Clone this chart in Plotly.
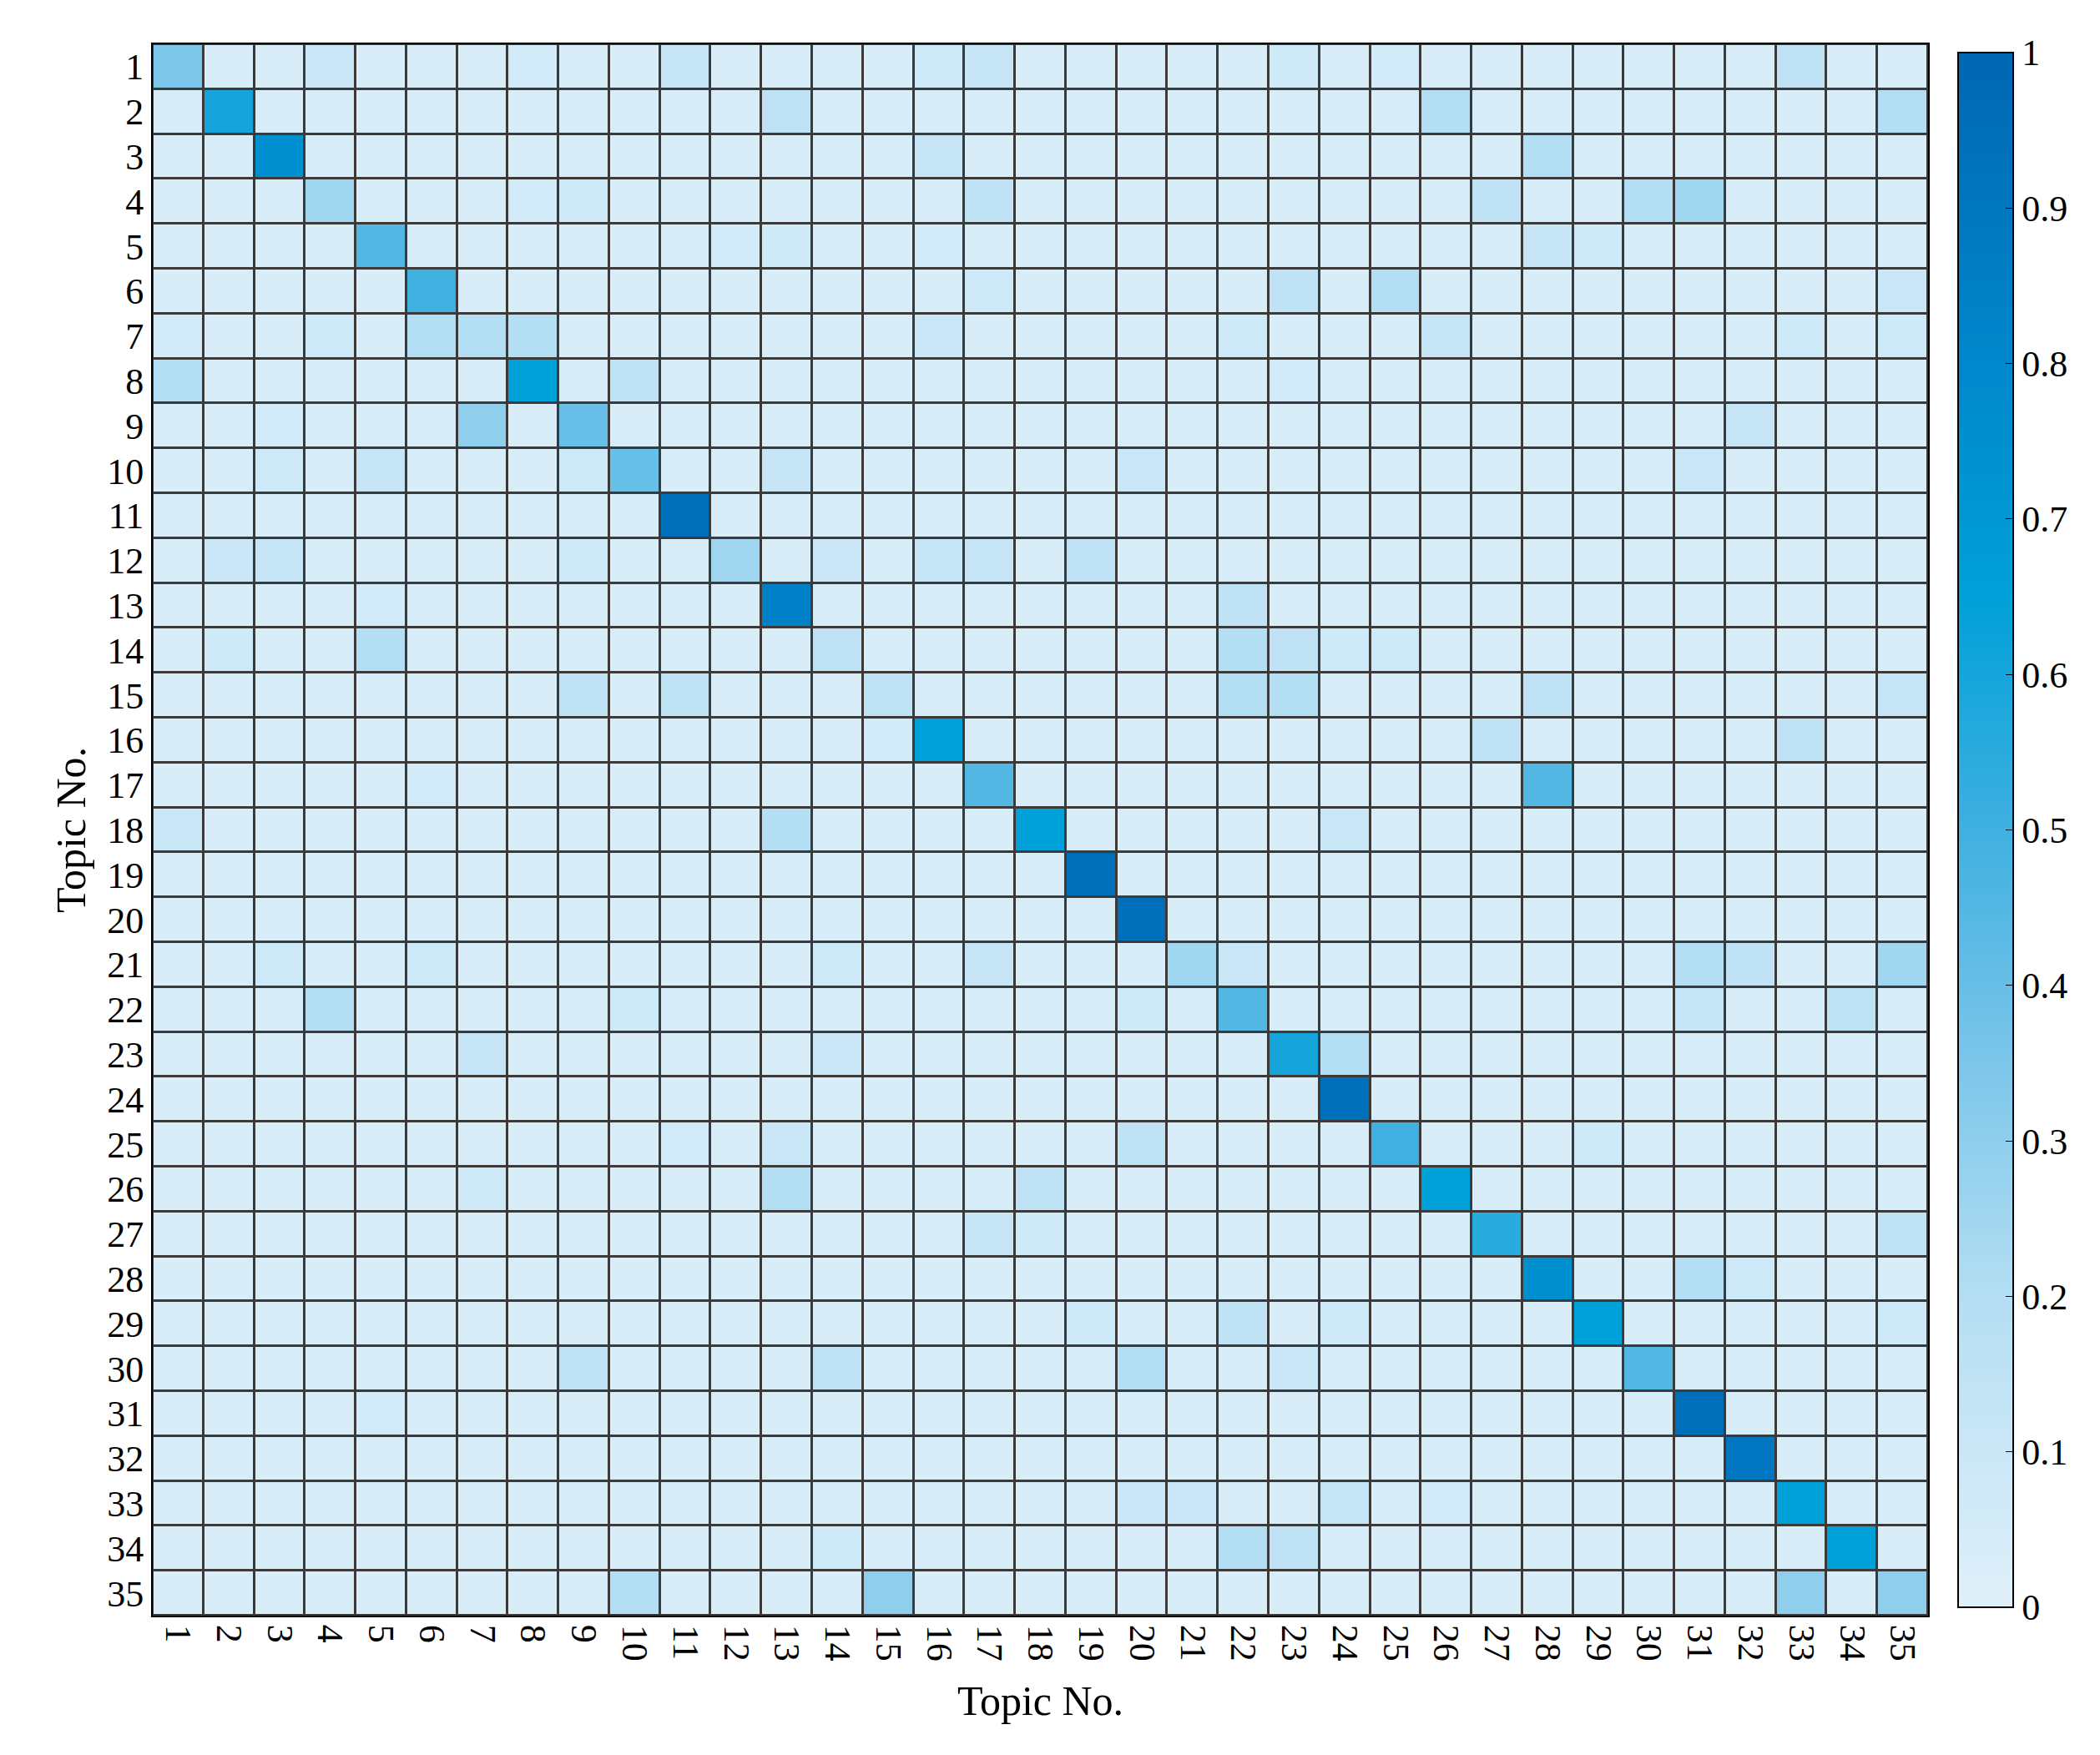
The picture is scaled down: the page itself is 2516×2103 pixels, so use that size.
import plotly.graph_objects as go

topics = [str(i) for i in range(1, 36)]
base_value = 0.03
diag_values = [0.35, 0.6, 0.75, 0.25, 0.45, 0.5, 0.2, 0.65, 0.4, 0.4, 0.95, 0.25, 0.85, 0.15, 0.15,
               0.65, 0.45, 0.65, 0.95, 0.95, 0.25, 0.45, 0.6, 0.95, 0.5, 0.65, 0.55, 0.75, 0.65, 0.45,
               0.95, 0.9, 0.65, 0.65, 0.3]
# (row, col, value), 1-based
off_diag = [
    (1,4,0.1),(1,11,0.12),(1,16,0.08),(1,17,0.12),(1,8,0.06),(1,23,0.08),(1,25,0.06),(1,33,0.15),
    (2,13,0.15),(2,26,0.2),(2,35,0.2),
    (3,16,0.12),(3,28,0.2),
    (4,9,0.08),(4,17,0.15),(4,27,0.15),(4,30,0.2),(4,31,0.25),(4,8,0.06),
    (5,28,0.12),(5,13,0.08),(5,29,0.08),(5,12,0.06),(5,16,0.06),
    (6,23,0.15),(6,25,0.2),(6,35,0.1),(6,17,0.08),
    (7,6,0.2),(7,8,0.2),(7,16,0.1),(7,26,0.12),(7,22,0.08),(7,1,0.06),(7,4,0.08),(7,33,0.08),(7,35,0.08),
    (8,1,0.2),(8,10,0.15),(8,23,0.06),
    (9,7,0.3),(9,32,0.12),(9,3,0.06),
    (10,5,0.12),(10,13,0.12),(10,20,0.1),(10,9,0.08),(10,31,0.1),(10,3,0.08),
    (12,2,0.1),(12,3,0.12),(12,9,0.08),(12,14,0.1),(12,16,0.12),(12,17,0.12),(12,19,0.15),
    (13,22,0.15),(13,5,0.06),
    (14,5,0.2),(14,22,0.2),(14,23,0.15),(14,24,0.08),(14,2,0.08),(14,25,0.08),
    (15,9,0.15),(15,11,0.15),(15,22,0.2),(15,23,0.2),(15,28,0.15),(15,35,0.12),
    (16,27,0.15),(16,33,0.15),(16,15,0.06),
    (17,28,0.45),(17,6,0.06),
    (18,1,0.1),(18,13,0.2),(18,24,0.1),
    (21,22,0.1),(21,31,0.2),(21,32,0.15),(21,35,0.25),(21,17,0.12),(21,14,0.08),(21,3,0.08),(21,6,0.08),
    (22,4,0.2),(22,31,0.12),(22,34,0.15),(22,10,0.08),(22,20,0.08),
    (23,7,0.12),(23,24,0.2),(23,14,0.1),
    (25,20,0.15),(25,13,0.1),(25,29,0.08),(25,11,0.06),
    (26,13,0.2),(26,18,0.15),(26,7,0.08),
    (27,17,0.12),(27,35,0.15),(27,18,0.08),
    (28,31,0.2),(28,32,0.08),
    (29,22,0.15),(29,24,0.08),(29,35,0.08),(29,19,0.08),
    (30,9,0.15),(30,14,0.15),(30,20,0.2),(30,23,0.1),
    (31,5,0.06),
    (33,20,0.1),(33,21,0.1),(33,24,0.12),(33,26,0.06),
    (34,22,0.2),(34,23,0.15),(34,14,0.08),
    (35,10,0.2),(35,15,0.3),(35,33,0.3),
]

n = len(topics)
z = [[base_value] * n for _ in range(n)]
for i, v in enumerate(diag_values):
    z[i][i] = v
for r, c, v in off_diag:
    z[r-1][c-1] = v

colorscale = [[0, '#e0f0fa'], [0.2, '#b4def3'], [0.35, '#7cc6ea'], [0.5, '#3fb0e0'],
              [0.65, '#00a0d8'], [0.8, '#0088cc'], [1, '#0066b3']]

font = "Liberation Serif"
fig = go.Figure(go.Heatmap(
    z=z, x=topics, y=topics, zmin=0, zmax=1, colorscale=colorscale,
    xgap=3, ygap=3,
    colorbar=dict(x=1.012, xanchor='left', y=0.5, len=1.0, yanchor='middle', thickness=66,
                  outlinecolor='black', outlinewidth=2, tickvals=[i/10 for i in range(11)],
                  ticktext=['0','0.1','0.2','0.3','0.4','0.5','0.6','0.7','0.8','0.9','1'],
                  ticks='inside', ticklen=10, tickcolor='black',
                  tickfont=dict(family=font, size=44, color='black')),
))
fig.update_layout(
    width=2516, height=2103, paper_bgcolor='white', plot_bgcolor='#3a3a3a',
    margin=dict(l=175, r=214, t=45, b=175),
    font=dict(family=font, color='black'),
)
fig.update_xaxes(title=dict(text='Topic No.', font=dict(size=50, family=font), standoff=30),
                 tickangle=90, tickfont=dict(size=44, family=font), showline=True, linecolor='black',
                 linewidth=2, mirror=True, ticks='', showgrid=False)
fig.update_yaxes(title=dict(text='Topic No.', font=dict(size=50, family=font), standoff=10),
                 autorange='reversed', tickfont=dict(size=44, family=font), showline=True,
                 linecolor='black', linewidth=2, mirror=True, ticks='', showgrid=False)
fig.write_html("out.html")
